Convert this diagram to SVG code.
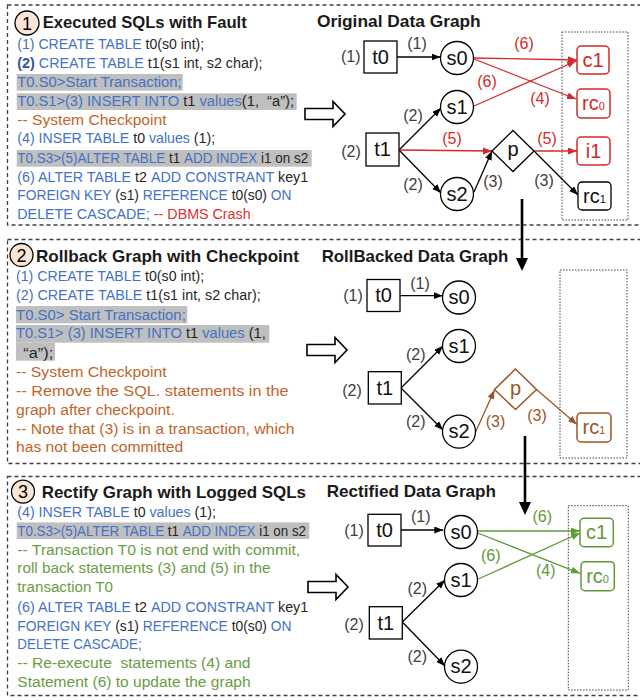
<svg xmlns="http://www.w3.org/2000/svg" width="640" height="700" viewBox="0 0 640 700">
<style>
text{font-family:"Liberation Sans",Arial,sans-serif}
.t{font-size:15px;fill:#262626;white-space:pre}
.b{fill:#4472c4}
.bb{fill:#2f5597;font-weight:bold}
.br{fill:#c0652c}
.r{fill:#e03030}
.g{fill:#6a9c44}
.hl{fill:#bfbfbf}
.ttl{font-size:17px;font-weight:bold;fill:#1a1a1a}
.panel{fill:none;stroke:#404040;stroke-width:1.3;stroke-dasharray:4 3}
.dot{fill:none;stroke:#404040;stroke-width:1;stroke-dasharray:1.5 1.5}
.n{fill:#fff;stroke:#000;stroke-width:1.3}
.nr{fill:#fff;stroke:#d42a2a;stroke-width:1.5}
.nb{fill:#fff;stroke:#9c5527;stroke-width:1.5}
.ng{fill:#fff;stroke:#5f9a3a;stroke-width:1.5}
.nl{font-size:20px;fill:#111;text-anchor:middle}
.sub{font-size:11px}
.el{font-size:16px;fill:#404040;text-anchor:middle}
.e{stroke:#000;stroke-width:1.3;fill:none}
.er{stroke:#d42a2a;stroke-width:1.3;fill:none}
.eb{stroke:#9c5527;stroke-width:1.3;fill:none}
.eg{stroke:#5f9a3a;stroke-width:1.3;fill:none}
.cr{fill:#d42a2a}
.cb{fill:#9c5527}
.cg{fill:#5f9a3a}
.badge{fill:#fbe5d6;stroke:#000;stroke-width:1.3}
.bn{font-size:18px;fill:#000;text-anchor:middle}
.blk{fill:#fff;stroke:#000;stroke-width:1.6}
</style>
<defs>
<marker id="ak" markerUnits="userSpaceOnUse" markerWidth="10" markerHeight="8" refX="9" refY="3.5" orient="auto"><path d="M0,0 L9,3.5 L0,7 z" fill="#000"/></marker>
<marker id="ar" markerUnits="userSpaceOnUse" markerWidth="10" markerHeight="8" refX="9" refY="3.5" orient="auto"><path d="M0,0 L9,3.5 L0,7 z" fill="#d42a2a"/></marker>
<marker id="ab" markerUnits="userSpaceOnUse" markerWidth="10" markerHeight="8" refX="9" refY="3.5" orient="auto"><path d="M0,0 L9,3.5 L0,7 z" fill="#9c5527"/></marker>
<marker id="ag" markerUnits="userSpaceOnUse" markerWidth="10" markerHeight="8" refX="9" refY="3.5" orient="auto"><path d="M0,0 L9,3.5 L0,7 z" fill="#5f9a3a"/></marker>
<path id="blockArrow" d="M0,-5.5 H28 V-12.5 L40,0 L28,12.5 V5.5 H0 Z"/>
</defs>

<!-- panels -->
<rect class="panel" x="7.5" y="5" width="650" height="220"/>
<rect class="panel" x="7.5" y="239.5" width="650" height="224"/>
<rect class="panel" x="7.5" y="476.5" width="650" height="219"/>

<!-- ========== Panel 1 text ========== -->
<g id="panel1-text">
<circle class="badge" cx="27" cy="23" r="12"/>
<text class="bn" x="27" y="29.5">1</text>
<text class="ttl" x="42.7" y="28.3" textLength="204" lengthAdjust="spacingAndGlyphs">Executed SQLs with Fault</text>
<rect class="hl" x="16.7" y="74" width="166" height="16.7"/>
<rect class="hl" x="16.7" y="93.3" width="280" height="16.7"/>
<rect class="hl" x="16.7" y="150" width="295" height="16.7"/>
<text class="t" transform="translate(17.3,49.3) scale(0.939,1)"><tspan class="b">(1) CREATE TABLE </tspan>t0(s0 int);</text>
<text class="t" transform="translate(17.3,68.3) scale(0.956,1)"><tspan class="bb">(2)</tspan><tspan class="b"> CREATE TABLE </tspan>t1(s1 int, s2 char);</text>
<text class="t" transform="translate(17.3,87.3) scale(0.989,1)"><tspan class="b">T0.S0&gt;Start Transaction;</tspan></text>
<text class="t" transform="translate(17.3,106) scale(0.978,1)"><tspan class="b">T0.S1&gt;(3) INSERT INTO </tspan>t1 <tspan class="b">values</tspan>(1,  “a”);</text>
<text class="t" transform="translate(17.3,125) scale(1.042,1)"><tspan class="br">-- System Checkpoint</tspan></text>
<text class="t" transform="translate(17.3,143.3) scale(0.945,1)"><tspan class="b">(4) INSER TABLE </tspan>t0 <tspan class="b">values </tspan>(1);</text>
<text class="t" transform="translate(17.3,162.7) scale(0.899,1)"><tspan class="b">T0.S3&gt;(5)ALTER TABLE </tspan>t1 <tspan class="b">ADD INDEX </tspan>i1 on s2</text>
<text class="t" transform="translate(17.3,181.7) scale(0.955,1)"><tspan class="b">(6) ALTER TABLE </tspan>t2 <tspan class="b">ADD CONSTRANT </tspan>key1</text>
<text class="t" transform="translate(17.3,200) scale(0.920,1)"><tspan class="b">FOREIGN KEY </tspan>(s1) <tspan class="b">REFERENCE </tspan>t0(s0) <tspan class="b">ON</tspan></text>
<text class="t" transform="translate(17.3,219) scale(0.953,1)"><tspan class="b">DELETE CASCADE; </tspan><tspan class="r">-- DBMS Crash</tspan></text>
</g>

<!-- ========== Panel 2 text ========== -->
<g id="panel2-text">
<circle class="badge" cx="21.5" cy="255" r="11.5"/>
<text class="bn" x="21.5" y="261.5">2</text>
<text class="ttl" x="36" y="261.7" textLength="263" lengthAdjust="spacingAndGlyphs">Rollback Graph with Checkpoint</text>
<rect class="hl" x="16" y="306" width="171.3" height="17.3"/>
<rect class="hl" x="16" y="325" width="253.3" height="17.7"/>
<rect class="hl" x="16" y="342.7" width="39" height="18"/>
<text class="t" transform="translate(16,280.5) scale(0.945,1)"><tspan class="b">(1) CREATE TABLE </tspan>t0(s0 int);</text>
<text class="t" transform="translate(16,299.5) scale(0.954,1)"><tspan class="b">(2) CREATE TABLE </tspan>t1(s1 int, s2 char);</text>
<text class="t" transform="translate(16,319.5) scale(0.996,1)"><tspan class="b">T0.S0&gt; Start Transaction;</tspan></text>
<text class="t" transform="translate(16,338.3) scale(0.978,1)"><tspan class="b">T0.S1&gt; (3) INSERT INTO </tspan>t1 <tspan class="b">values </tspan>(1,</text>
<text class="t" transform="translate(23.3,357.5) scale(1.09,1)">“a”);</text>
<text class="t" transform="translate(16,376.5) scale(1.051,1)"><tspan class="br">-- System Checkpoint</tspan></text>
<text class="t" transform="translate(16,395.5) scale(1.083,1)"><tspan class="br">-- Remove the SQL. statements in the</tspan></text>
<text class="t" transform="translate(16,414.5) scale(1.042,1)"><tspan class="br">graph after checkpoint.</tspan></text>
<text class="t" transform="translate(16,433.7) scale(1.052,1)"><tspan class="br">-- Note that (3) is in a transaction, which</tspan></text>
<text class="t" transform="translate(16,451.8) scale(1.045,1)"><tspan class="br">has not been committed</tspan></text>
</g>

<!-- ========== Panel 3 text ========== -->
<g id="panel3-text">
<circle class="badge" cx="23" cy="491.7" r="11.5"/>
<text class="bn" x="23" y="498.2">3</text>
<text class="ttl" x="41.7" y="497.7" textLength="264.3" lengthAdjust="spacingAndGlyphs">Rectify Graph with Logged SQLs</text>
<rect class="hl" x="16.7" y="522.4" width="292.6" height="16.6"/>
<text class="t" transform="translate(17.3,516.6) scale(0.948,1)"><tspan class="b">(4) INSER TABLE </tspan>t0 <tspan class="b">values </tspan>(1);</text>
<text class="t" transform="translate(17.3,535.6) scale(0.892,1)"><tspan class="b">T0.S3&gt;(5)ALTER TABLE </tspan>t1 <tspan class="b">ADD INDEX </tspan>i1 on s2</text>
<text class="t" transform="translate(17.3,554.8) scale(1.050,1)"><tspan class="g">-- Transaction T0 is not end with commit,</tspan></text>
<text class="t" transform="translate(17.3,573.4) scale(1.020,1)"><tspan class="g">roll back statements (3) and (5) in the</tspan></text>
<text class="t" transform="translate(17.3,591.8) scale(1.01,1)"><tspan class="g">transaction T0</tspan></text>
<text class="t" transform="translate(17.3,611.6) scale(0.955,1)"><tspan class="b">(6) ALTER TABLE </tspan>t2 <tspan class="b">ADD CONSTRANT </tspan>key1</text>
<text class="t" transform="translate(17.3,630.6) scale(0.920,1)"><tspan class="b">FOREIGN KEY </tspan>(s1) <tspan class="b">REFERENCE </tspan>t0(s0) <tspan class="b">ON</tspan></text>
<text class="t" transform="translate(17.3,649.4) scale(0.894,1)"><tspan class="b">DELETE CASCADE;</tspan></text>
<text class="t" transform="translate(17.3,668.4) scale(1.041,1)"><tspan class="g">-- Re-execute  statements (4) and</tspan></text>
<text class="t" transform="translate(17.3,686.8) scale(1.037,1)"><tspan class="g">Statement (6) to update the graph</tspan></text>
</g>

<!-- block arrows -->
<g id="block-arrows">
<use href="#blockArrow" class="blk" transform="translate(305,114)"/>
<use href="#blockArrow" class="blk" transform="translate(307,350)"/>
<use href="#blockArrow" class="blk" transform="translate(308,587)"/>
</g>

<!-- graph titles -->
<text class="ttl" x="317" y="27" textLength="163.7" lengthAdjust="spacingAndGlyphs">Original Data Graph</text>
<text class="ttl" x="321.7" y="261.7" textLength="186.7" lengthAdjust="spacingAndGlyphs">RollBacked Data Graph</text>
<text class="ttl" x="326.7" y="497.3" textLength="169.3" lengthAdjust="spacingAndGlyphs">Rectified Data Graph</text>

<!-- dotted containers -->
<rect class="dot" x="562" y="32" width="66" height="188"/>
<rect class="dot" x="560" y="270" width="67" height="188"/>
<rect class="dot" x="568.3" y="505.7" width="60" height="184.3"/>

<!-- ========== connectors ========== -->
<g id="connectors">
<!-- vertical flow arrows -->
<line x1="522" y1="199" x2="522" y2="259" stroke="#000" stroke-width="2.6"/>
<polygon points="516,258 528,258 522,271" fill="#000"/>
<line x1="525" y1="436" x2="525" y2="503" stroke="#000" stroke-width="2.6"/>
<polygon points="519,502 531,502 525,515" fill="#000"/>

<!-- panel 1 -->
<line class="e" x1="397" y1="57" x2="440.5" y2="57" marker-end="url(#ak)"/>
<line class="er" x1="474" y1="58" x2="577" y2="60" marker-end="url(#ar)"/>
<line class="er" x1="474" y1="59" x2="576" y2="99" marker-end="url(#ar)"/>
<line class="er" x1="474" y1="106" x2="576" y2="61" marker-end="url(#ar)"/>
<line class="e" x1="399" y1="150" x2="441" y2="108" marker-end="url(#ak)"/>
<line class="e" x1="399" y1="150" x2="441" y2="193" marker-end="url(#ak)"/>
<line class="er" x1="399" y1="150" x2="492" y2="151" marker-end="url(#ar)"/>
<line class="e" x1="474" y1="192" x2="492" y2="151" marker-end="url(#ak)"/>
<line class="er" x1="534" y1="151" x2="577" y2="151" marker-end="url(#ar)"/>
<line class="e" x1="534" y1="151" x2="578" y2="195" marker-end="url(#ak)"/>

<!-- panel 2 -->
<line class="e" x1="400" y1="295.7" x2="442.7" y2="295.7" marker-end="url(#ak)"/>
<line class="e" x1="401" y1="388" x2="443" y2="346" marker-end="url(#ak)"/>
<line class="e" x1="401" y1="388" x2="443" y2="430" marker-end="url(#ak)"/>
<line class="eb" x1="475.7" y1="431.7" x2="494.5" y2="390" marker-end="url(#ab)"/>
<line class="eb" x1="536.5" y1="389.5" x2="577" y2="424.5" marker-end="url(#ab)"/>

<!-- panel 3 -->
<line class="e" x1="401" y1="530" x2="443.3" y2="530" marker-end="url(#ak)"/>
<line class="e" x1="402.3" y1="622" x2="445" y2="580" marker-end="url(#ak)"/>
<line class="e" x1="402.3" y1="622" x2="445" y2="666" marker-end="url(#ak)"/>
<line class="eg" x1="477.7" y1="531" x2="580" y2="531" marker-end="url(#ag)"/>
<line class="eg" x1="477.7" y1="533" x2="580" y2="573.3" marker-end="url(#ag)"/>
<line class="eg" x1="478.3" y1="579" x2="580" y2="533" marker-end="url(#ag)"/>

<!-- edge labels panel 1 -->
<text class="el" x="350.7" y="61.5">(1)</text>
<text class="el" x="417" y="49">(1)</text>
<text class="el cr" x="524" y="49">(6)</text>
<text class="el cr" x="487" y="87">(6)</text>
<text class="el cr" x="540" y="104">(4)</text>
<text class="el" x="351" y="157.4">(2)</text>
<text class="el" x="413" y="121">(2)</text>
<text class="el" x="413" y="190">(2)</text>
<text class="el cr" x="452" y="144">(5)</text>
<text class="el" x="493" y="187">(3)</text>
<text class="el cr" x="547" y="144">(5)</text>
<text class="el" x="544" y="186">(3)</text>

<!-- edge labels panel 2 -->
<text class="el" x="353" y="300.8">(1)</text>
<text class="el" x="420" y="289">(1)</text>
<text class="el" x="352" y="396.4">(2)</text>
<text class="el" x="415.7" y="360">(2)</text>
<text class="el" x="415.7" y="427">(2)</text>
<text class="el cb" x="495.5" y="426.5">(3)</text>
<text class="el cb" x="537" y="421">(3)</text>

<!-- edge labels panel 3 -->
<text class="el" x="354" y="535.8">(1)</text>
<text class="el" x="420.7" y="521.8">(1)</text>
<text class="el" x="354" y="630">(2)</text>
<text class="el" x="417.3" y="594">(2)</text>
<text class="el" x="417.3" y="662.3">(2)</text>
<text class="el cg" x="542.3" y="521.8">(6)</text>
<text class="el cg" x="490.7" y="560.8">(6)</text>
<text class="el cg" x="545.7" y="576.4">(4)</text>
</g>

<!-- ========== nodes panel 1 ========== -->
<g id="p1-t0"><rect class="n" x="364" y="41" width="33" height="32"/><text class="nl" x="380.5" y="63.7">t0</text></g>
<g id="p1-s0"><circle class="n" cx="457" cy="58" r="16.5"/><text class="nl" x="457" y="64.7">s0</text></g>
<g id="p1-s1"><circle class="n" cx="457" cy="107" r="16.5"/><text class="nl" x="457" y="113.7">s1</text></g>
<g id="p1-s2"><circle class="n" cx="457" cy="194" r="16.5"/><text class="nl" x="457" y="200.7">s2</text></g>
<g id="p1-t1"><rect class="n" x="366" y="133" width="33" height="33"/><text class="nl" x="382.5" y="156.2">t1</text></g>
<g id="p1-p"><polygon class="n" points="513,130.5 534,151 513,171.5 492,151"/><text class="nl" x="513" y="156">p</text></g>
<g id="p1-c1"><rect class="nr" x="577" y="46" width="32" height="28" rx="4"/><text class="nl cr" x="593" y="66.7">c1</text></g>
<g id="p1-rc0"><rect class="nr" x="577" y="89" width="33" height="29" rx="4"/><text class="nl cr" x="593.5" y="110.2">rc<tspan class="sub">0</tspan></text></g>
<g id="p1-i1"><rect class="nr" x="577" y="137" width="33" height="28" rx="4"/><text class="nl cr" x="593.5" y="157.7">i1</text></g>
<g id="p1-rc1"><rect class="n" x="578" y="182" width="33" height="28" rx="4"/><text class="nl" x="594.5" y="202.7">rc<tspan class="sub">1</tspan></text></g>

<!-- ========== nodes panel 2 ========== -->
<g id="p2-t0"><rect class="n" x="367" y="279.5" width="33" height="32"/><text class="nl" x="383.5" y="302.2">t0</text></g>
<g id="p2-s0"><circle class="n" cx="459" cy="297.5" r="16.5"/><text class="nl" x="459" y="304.2">s0</text></g>
<g id="p2-s1"><circle class="n" cx="459" cy="346" r="16.5"/><text class="nl" x="459" y="352.7">s1</text></g>
<g id="p2-s2"><circle class="n" cx="459" cy="431.7" r="16.5"/><text class="nl" x="459" y="438.4">s2</text></g>
<g id="p2-t1"><rect class="n" x="368.3" y="371.7" width="33" height="32.3"/><text class="nl" x="384.8" y="394.6">t1</text></g>
<g id="p2-p"><polygon class="nb" points="515.5,369 536.5,389.5 515.5,409.5 494.5,389.5"/><text class="nl cb" x="515.5" y="394.5">p</text></g>
<g id="p2-rc1"><rect class="nb" x="577" y="413" width="34" height="29" rx="4"/><text class="nl cb" x="594" y="434.2">rc<tspan class="sub">1</tspan></text></g>

<!-- ========== nodes panel 3 ========== -->
<g id="p3-t0"><rect class="n" x="368" y="514.3" width="33" height="31.7"/><text class="nl" x="384.5" y="536.9">t0</text></g>
<g id="p3-s0"><circle class="n" cx="461" cy="532" r="16.5"/><text class="nl" x="461" y="538.7">s0</text></g>
<g id="p3-s1"><circle class="n" cx="461" cy="580" r="16.5"/><text class="nl" x="461" y="586.7">s1</text></g>
<g id="p3-s2"><circle class="n" cx="461" cy="666.7" r="16.5"/><text class="nl" x="461" y="673.4">s2</text></g>
<g id="p3-t1"><rect class="n" x="369.3" y="606.7" width="33" height="32.3"/><text class="nl" x="385.8" y="629.6">t1</text></g>
<g id="p3-c1"><rect class="ng" x="580" y="518.3" width="33.3" height="28.4" rx="4"/><text class="nl cg" x="596.6" y="539.2">c1</text></g>
<g id="p3-rc0"><rect class="ng" x="581" y="561.7" width="33.3" height="29" rx="4"/><text class="nl cg" x="597.6" y="582.9">rc<tspan class="sub">0</tspan></text></g>
</svg>
